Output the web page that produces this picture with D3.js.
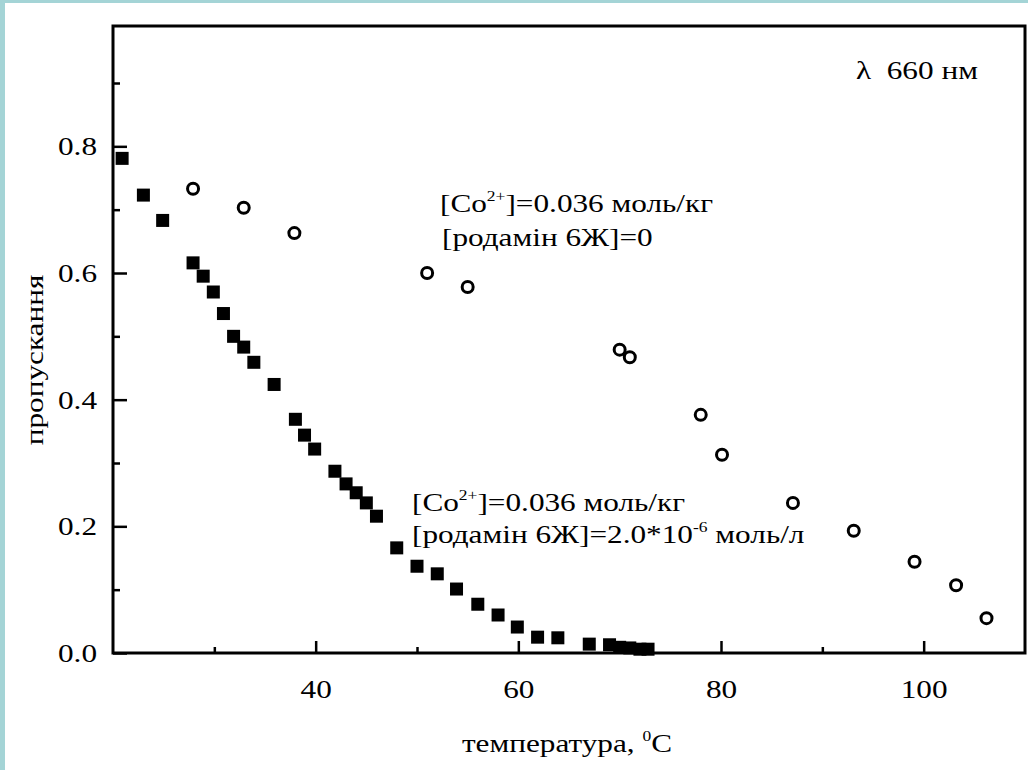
<!DOCTYPE html>
<html><head><meta charset="utf-8">
<script src="https://cdn.jsdelivr.net/npm/d3@7"></script>
<style>html,body{margin:0;padding:0;background:#fff;} svg{display:block}</style>
</head><body><svg id="chart" width="1028" height="770"></svg>
<script>
// ---- data ----
const squareTemps  = [20.9, 23.0, 24.9, 27.9, 28.9, 29.9, 30.9, 31.9, 32.9, 33.9, 35.9, 38.0, 38.9, 39.9, 41.9, 43.0, 44.0, 45.0, 46.0, 48.0, 50.0, 52.0, 53.9, 56.0, 58.0, 59.9, 61.9, 63.9, 67.0, 69.0, 70.0, 71.0, 72.0, 72.8];
const squareValues = [0.781, 0.723, 0.683, 0.616, 0.595, 0.570, 0.536, 0.500, 0.483, 0.459, 0.424, 0.369, 0.344, 0.322, 0.287, 0.267, 0.253, 0.237, 0.216, 0.166, 0.137, 0.125, 0.101, 0.077, 0.060, 0.041, 0.025, 0.024, 0.014, 0.013, 0.009, 0.008, 0.006, 0.006];
const circleTemps  = [27.9, 32.9, 37.9, 51.0, 55.0, 70.0, 71.0, 78.0, 80.1, 87.1, 93.1, 99.1, 103.2, 106.2];
const circleValues = [0.733, 0.703, 0.663, 0.600, 0.578, 0.479, 0.467, 0.376, 0.313, 0.237, 0.193, 0.144, 0.107, 0.055];
const xMajorTicks = [40, 60, 80, 100];
const xMinorTicks = [30, 50, 70, 90];
const yMajorTicks = [0.0, 0.2, 0.4, 0.6, 0.8];
const yMinorTicks = [0.1, 0.3, 0.5, 0.7, 0.9];
const xDomain = [20, 110];
const yDomain = [0, 0.99];
const xTitleText = ["температура, ", "0", "C"];
const yTitleText = "пропускання";
const lambdaText = "λ\u00a0\u00a0660 нм";
const noteCircles = [["[Co", "2+", "]=0.036 моль/кг"], ["[родамін 6Ж]=0"]];
const noteSquares = [["[Co", "2+", "]=0.036 моль/кг"], ["[родамін 6Ж]=2.0*10", "-6", " моль/л"]];

// ---- layout ----
const W = 1028, H = 770;
const L = 113, R = 1025, T = 26, B = 653;
const SX = 1.25; // horizontal stretch of the original lettering
const FONT = "'Liberation Serif','Times New Roman',serif";

const svg = d3.select("#chart");
svg.append("rect").attr("width", W).attr("height", H).attr("fill", "#fff");
svg.append("rect").attr("x", 0).attr("y", 0).attr("width", 5).attr("height", H).attr("fill", "#a4d4d6");
svg.append("rect").attr("x", 0).attr("y", 0).attr("width", W).attr("height", 3).attr("fill", "#a4d4d6");

const x = d3.scaleLinear().domain(xDomain).range([L, R]);
const y = d3.scaleLinear().domain(yDomain).range([B, T]);

// ticks via d3 axes (inward)
function styleAxis(g) {
  g.select(".domain").remove();
  g.selectAll(".tick line").attr("stroke", "#000").attr("stroke-width", 2.5);
}
svg.append("g").attr("transform", `translate(0,${B})`)
  .call(d3.axisBottom(x).tickValues(xMinorTicks).tickSizeInner(-6).tickSizeOuter(0).tickFormat(""))
  .call(styleAxis);
const gxMaj = svg.append("g").attr("transform", `translate(0,${B})`)
  .call(d3.axisBottom(x).tickValues(xMajorTicks).tickSizeInner(-12).tickSizeOuter(0).tickFormat(d3.format("d")))
  .call(styleAxis);
gxMaj.selectAll(".tick text")
  .attr("y", 0).attr("dy", 0)
  .attr("transform", `translate(0,45) scale(${SX},1)`)
  .attr("font-family", FONT).attr("font-size", 25).attr("fill", "#000");

svg.append("g").attr("transform", `translate(${L},0)`)
  .call(d3.axisLeft(y).tickValues(yMinorTicks).tickSizeInner(-7).tickSizeOuter(0).tickFormat(""))
  .call(styleAxis);
const gyMaj = svg.append("g").attr("transform", `translate(${L},0)`)
  .call(d3.axisLeft(y).tickValues(yMajorTicks).tickSizeInner(-14).tickSizeOuter(0).tickFormat(d3.format(".1f")))
  .call(styleAxis);
gyMaj.selectAll(".tick text")
  .attr("x", 0).attr("dy", 0)
  .attr("transform", `translate(-16,8.5) scale(${SX},1)`)
  .attr("text-anchor", "end")
  .attr("font-family", FONT).attr("font-size", 25).attr("fill", "#000");

// frame
svg.append("rect").attr("x", L).attr("y", T).attr("width", R - L).attr("height", B - T)
  .attr("fill", "none").attr("stroke", "#000").attr("stroke-width", 3);

// points
const sq = 13;
svg.append("g").selectAll("rect").data(squareTemps.map((t, i) => [t, squareValues[i]]))
  .join("rect")
  .attr("x", d => x(d[0]) - sq / 2).attr("y", d => y(d[1]) - sq / 2)
  .attr("width", sq).attr("height", sq).attr("fill", "#000");
svg.append("g").selectAll("circle").data(circleTemps.map((t, i) => [t, circleValues[i]]))
  .join("circle")
  .attr("cx", d => x(d[0])).attr("cy", d => y(d[1])).attr("r", 5.5)
  .attr("fill", "#fff").attr("stroke", "#000").attr("stroke-width", 3);

// text helper
function label(px, py, parts, opts = {}) {
  const t = svg.append("text")
    .attr("transform", `translate(${px},${py})${opts.rotate ? " rotate(-90)" : ""} scale(${SX},1)`)
    .attr("text-anchor", opts.anchor || "start")
    .attr("font-family", FONT).attr("font-size", opts.size || 25).attr("fill", "#000");
  parts.forEach((p, i) => {
    const sup = opts.sup && opts.sup.includes(i);
    const ts = t.append("tspan").text(p);
    if (sup) ts.attr("font-size", 14).attr("dy", -11);
    else if (i > 0 && opts.sup && opts.sup.includes(i - 1)) ts.attr("dy", 11);
  });
  return t;
}

label(856, 79, [lambdaText]);
label(440, 212, noteCircles[0], { sup: [1] });
label(442, 246, noteCircles[1]);
label(412, 511, noteSquares[0], { sup: [1] });
label(412, 543, noteSquares[1], { sup: [1] });
label(567, 752, xTitleText, { anchor: "middle", sup: [1] });
label(43, 360, [yTitleText], { anchor: "middle", rotate: true });
</script></body></html>
